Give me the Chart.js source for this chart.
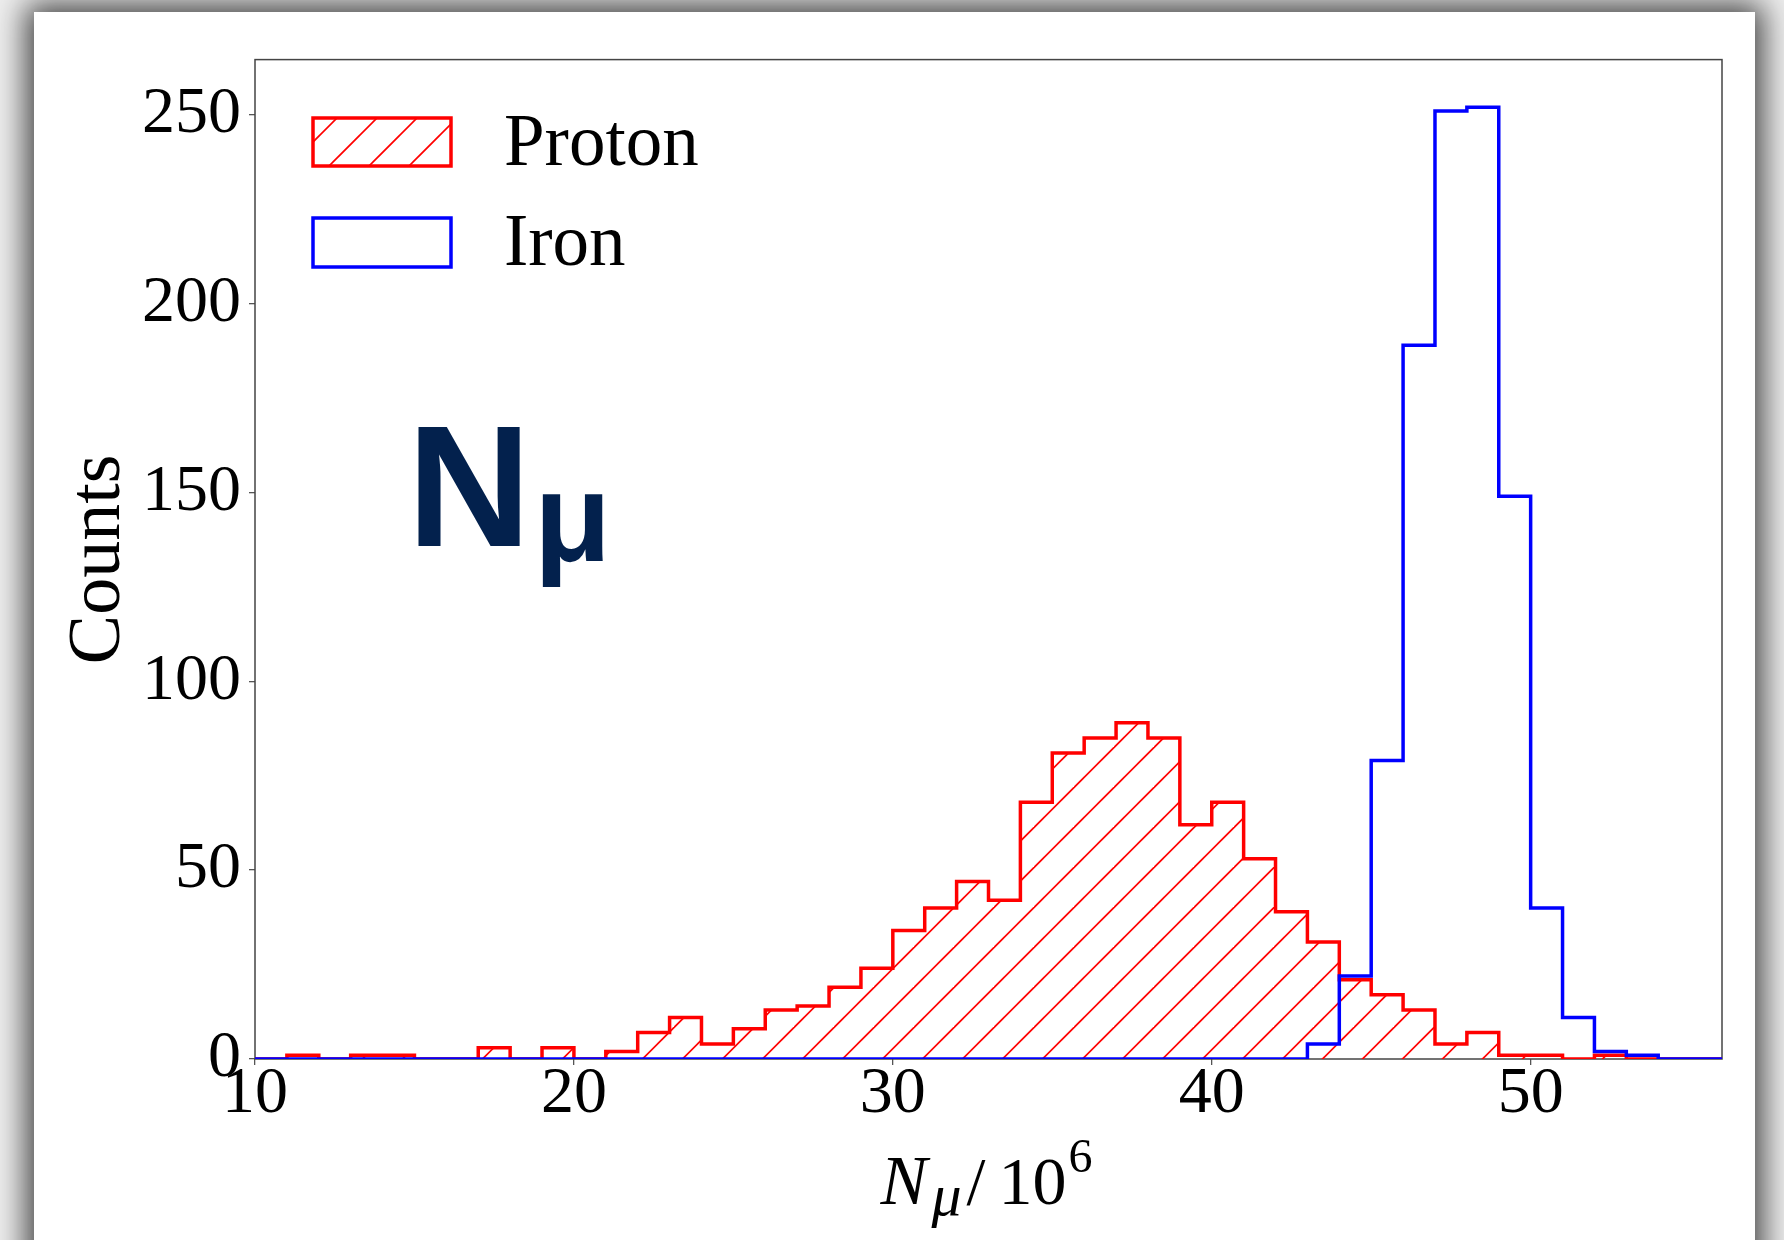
<!DOCTYPE html>
<html>
<head>
<meta charset="utf-8">
<title>N_mu histogram</title>
<script src="https://cdn.jsdelivr.net/npm/chart.js@4.4.1/dist/chart.umd.min.js"></script>
<style>
  html, body { margin: 0; padding: 0; }
  body { width: 1784px; height: 1240px; overflow: hidden; background: #efefef; position: relative; }
  .card { position: absolute; left: 34px; top: 12px; width: 1721px; height: 1270px; background: #fff; box-shadow: 0 0 30px 8px rgba(0,0,0,0.72); }
  #histChart { position: absolute; left: 0; top: 0; }
</style>
</head>
<body>
<div class="card">
  <canvas id="histChart" width="1721" height="1228"></canvas>
</div>
<script>
// bin left edges (width 1, in units of 10^6 muons)
const binLeft = [10, 11, 12, 13, 14, 15, 16, 17, 18, 19,
                 20, 21, 22, 23, 24, 25, 26, 27, 28, 29,
                 30, 31, 32, 33, 34, 35, 36, 37, 38, 39,
                 40, 41, 42, 43, 44, 45, 46, 47, 48, 49,
                 50, 51, 52, 53, 54, 55];
const binWidth = 1;

const protonCounts = [0, 1, 0, 1, 1, 0, 0, 3, 0, 3,
                      0, 2, 7, 11, 4, 8, 13, 14, 19, 24,
                      34, 40, 47, 42, 68, 81, 85, 89, 85, 62,
                      68, 53, 39, 31, 21, 17, 13, 4, 7, 1,
                      1, 0, 1, 0, 0, 0];
const ironCounts = [0, 0, 0, 0, 0, 0, 0, 0, 0, 0,
                    0, 0, 0, 0, 0, 0, 0, 0, 0, 0,
                    0, 0, 0, 0, 0, 0, 0, 0, 0, 0,
                    0, 0, 0, 4, 22, 79, 189, 251, 252, 149,
                    40, 11, 2, 1, 0, 0];

const seriesNames = ['Proton', 'Iron'];
const xRange = [10, 56];
const yRange = [0, 264.6];
const xStep = 10;
const yStep = 50;

const RED = '#ff0000';
const BLUE = '#0000ff';
const SERIF = '"Liberation Serif", "Times New Roman", serif';

// histogram outline as step points
function stepPoints(counts) {
    const pts = [{ x: binLeft[0], y: 0 }];
    counts.forEach((c, i) => pts.push({ x: binLeft[i], y: c }));
    pts.push({ x: binLeft[binLeft.length - 1] + binWidth, y: 0 });
    return pts;
}

// red "/" hatch, lines where x + y = offset (mod 40)
function makeHatch(offset) {
    const size = 40;
    const c = document.createElement('canvas');
    c.width = size;
    c.height = size;
    const g = c.getContext('2d');
    g.strokeStyle = RED;
    g.lineWidth = 1.7;
    for (const k of [-1, 0, 1, 2]) {
        const s = offset + k * size;
        g.beginPath();
        g.moveTo(s + 10, -10);
        g.lineTo(-10, s + 10);
        g.stroke();
    }
    return g.createPattern(c, 'repeat');
}

const overlayPlugin = {
    id: 'overlay',
    beforeDatasetsDraw(chart) {
        const { ctx, chartArea: a } = chart;
        ctx.save();
        ctx.strokeStyle = '#444';
        ctx.lineWidth = 1.5;
        ctx.strokeRect(a.left, a.top, a.right - a.left, a.bottom - a.top);
        ctx.restore();
    },
    afterDraw(chart) {
        const { ctx, chartArea: a } = chart;
        ctx.save();

        // legend
        ctx.lineWidth = 3.5;
        ctx.fillStyle = makeHatch(9);
        ctx.fillRect(279, 106, 138, 48);
        ctx.strokeStyle = RED;
        ctx.strokeRect(279, 106, 138, 48);
        ctx.strokeStyle = BLUE;
        ctx.strokeRect(279, 206, 138, 49);
        ctx.fillStyle = '#000';
        ctx.font = '73px ' + SERIF;
        ctx.textBaseline = 'alphabetic';
        ctx.textAlign = 'left';
        ctx.fillText(seriesNames[0], 470, 153);
        ctx.fillText(seriesNames[1], 470, 253);

        // big N_mu label
        ctx.fillStyle = '#03214d';
        ctx.font = 'bold 172px "Liberation Sans", Arial, sans-serif';
        ctx.fillText('N', 373, 534);
        ctx.font = 'bold 126px "Liberation Sans", Arial, sans-serif';
        ctx.fillText('μ', 500, 549);

        // x axis title: N_mu / 10^6
        const cx = (a.left + a.right) / 2;
        ctx.fillStyle = '#000';
        ctx.font = 'italic 70px ' + SERIF;
        ctx.fillText('N', cx - 108, 1192);
        ctx.font = 'italic 60px ' + SERIF;
        ctx.fillText('μ', cx - 57, 1203);
        ctx.font = '68px ' + SERIF;
        ctx.fillText('/', cx - 22, 1192);
        ctx.fillText('10', cx + 10, 1192);
        ctx.font = '48px ' + SERIF;
        ctx.fillText('6', cx + 80, 1160);
        ctx.restore();
    }
};

const ctx = document.getElementById('histChart').getContext('2d');
new Chart(ctx, {
    type: 'line',
    data: {
        datasets: [
            {
                label: seriesNames[0],
                data: stepPoints(protonCounts),
                stepped: 'before',
                borderColor: RED,
                borderWidth: 3.5,
                backgroundColor: makeHatch(15.5),
                fill: 'origin',
                pointRadius: 0,
                borderJoinStyle: 'miter',
                order: 1
            },
            {
                label: seriesNames[1],
                data: stepPoints(ironCounts),
                stepped: 'before',
                borderColor: BLUE,
                borderWidth: 3.5,
                fill: false,
                pointRadius: 0,
                borderJoinStyle: 'miter',
                order: 0
            }
        ]
    },
    options: {
        responsive: false,
        animation: false,
        events: [],
        layout: { padding: { left: 0, right: 33, top: 45, bottom: 0 } },
        plugins: {
            legend: { display: false },
            tooltip: { enabled: false }
        },
        scales: {
            x: {
                type: 'linear',
                min: xRange[0],
                max: xRange[1],
                afterFit: scale => { scale.height = 181; },
                border: { display: false },
                grid: { display: true, drawOnChartArea: false, drawTicks: true, tickLength: 6, color: '#555', lineWidth: 1.3 },
                ticks: {
                    stepSize: xStep,
                    includeBounds: false,
                    maxRotation: 0,
                    padding: -3,
                    color: '#000',
                    font: { family: SERIF, size: 66, lineHeight: 1 }
                }
            },
            y: {
                min: yRange[0],
                max: yRange[1],
                afterFit: scale => { scale.width = 221; },
                border: { display: false },
                grid: { display: true, drawOnChartArea: false, drawTicks: true, tickLength: 6, color: '#555', lineWidth: 1.3 },
                ticks: {
                    stepSize: yStep,
                    includeBounds: false,
                    padding: 8,
                    color: '#000',
                    font: { family: SERIF, size: 66 }
                },
                title: {
                    display: true,
                    text: 'Counts',
                    color: '#000',
                    padding: { top: 21, bottom: 0 },
                    font: { family: SERIF, size: 74 }
                }
            }
        }
    },
    plugins: [overlayPlugin]
});
</script>
</body>
</html>
